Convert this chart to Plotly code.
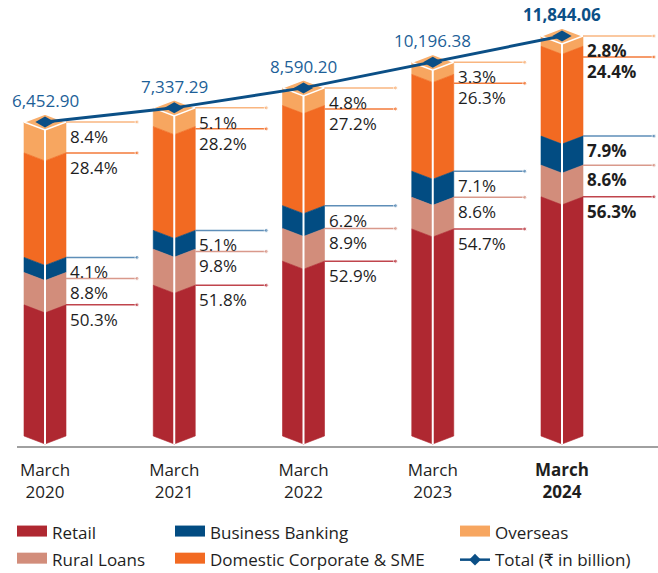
import plotly.graph_objects as go

# ---------------------------------------------------------------------------
# data: loan book mix (% of total) and total advances (₹ billion)
# ---------------------------------------------------------------------------
YEARS = ["2020", "2021", "2022", "2023", "2024"]
TOTALS = [6452.90, 7337.29, 8590.20, 10196.38, 11844.06]

RETAIL = [50.3, 51.8, 52.9, 54.7, 56.3]
RURAL = [8.8, 9.8, 8.9, 8.6, 8.6]
BUSINESS = [4.1, 5.1, 6.2, 7.1, 7.9]
DOMESTIC = [28.4, 28.2, 27.2, 26.3, 24.4]
OVERSEAS = [8.4, 5.1, 4.8, 3.3, 2.8]

TOTAL_NAME = "Total (₹ in billion)"

# series from the top of the column down: name, values, face colour, leader colour
SERIES = [
    ("Overseas", OVERSEAS, "#F7A660", "#F9B680"),
    ("Domestic Corporate & SME", DOMESTIC, "#F26A22", "#F37A3A"),
    ("Business Banking", BUSINESS, "#024C82", "#5E8EB8"),
    ("Rural Loans", RURAL, "#D28D7B", "#D9998B"),
    ("Retail", RETAIL, "#AF2831", "#C0444C"),
]
TOP_FACE = "#F8AE6C"
LINE_BLUE = "#0B4F86"
LABEL_BLUE = "#1D5F98"
TEXT = "#1E1E1E"
FONT = "'Open Sans', Lato, sans-serif"

# ---------------------------------------------------------------------------
# geometry of the pseudo-3D columns (value axis is ₹ billion, hidden)
# ---------------------------------------------------------------------------
PX = 62.7                 # ₹ bn per screen pixel
PLOT_H = 446
Y_MAX = 14100
Y_MIN = Y_MAX - PLOT_H * PX
BASE = Y_MAX - 436 * PX   # where the columns stand
PCT = 3.68 * PX           # drawn height of one percentage point
DEPTH = 8 * PX            # front edge drop of the isometric faces
GAP = 21 * PX             # minimum spacing between leader lines

STEP = 129.25             # pixels between categories
X_LO = -(45 - 17) / STEP
X_HI = X_LO + 641 / STEP
HALF_W = 21 / STEP
LEADER = 71 / STEP

fig = go.Figure()

n = len(YEARS)
edges = []      # per bar: [top, b1, b2, b3, b4] from top down
for i in range(n):
    level = TOTALS[i]
    row = [level]
    for _, vals, _, _ in SERIES[:-1]:
        level -= vals[i] * PCT
        row.append(level)
    edges.append(row)

# column faces, one trace per series
for k, (name, vals, face, _) in enumerate(SERIES):
    xs, ys = [], []
    for i in range(n):
        hi = edges[i][k]
        lo = edges[i][k + 1] if k + 1 < len(edges[i]) else BASE
        xc = i
        xs += [xc - HALF_W, xc, xc + HALF_W, xc + HALF_W, xc, xc - HALF_W, xc - HALF_W, None]
        ys += [hi, hi - DEPTH, hi, lo, lo - DEPTH, lo, hi, None]
    fig.add_trace(go.Scatter(
        x=xs, y=ys, mode="lines", fill="toself", fillcolor=face,
        line=dict(width=0.6, color=face), hoverinfo="skip", showlegend=False,
    ))

# top faces
xs, ys = [], []
for i in range(n):
    t = TOTALS[i]
    xs += [i - HALF_W, i, i + HALF_W, i, i - HALF_W, None]
    ys += [t, t + DEPTH, t, t - DEPTH, t, None]
fig.add_trace(go.Scatter(
    x=xs, y=ys, mode="lines", fill="toself", fillcolor=TOP_FACE,
    line=dict(width=1.5, color="white"), hoverinfo="skip", showlegend=False,
))

# white front edge
xs, ys = [], []
for i in range(n):
    xs += [i, i, None]
    ys += [TOTALS[i] - DEPTH, BASE - DEPTH, None]
fig.add_trace(go.Scatter(
    x=xs, y=ys, mode="lines", line=dict(width=2, color="white"),
    hoverinfo="skip", showlegend=False,
))

# leader lines with end dots
levels = []
for i in range(n):
    row = list(edges[i])
    for k in range(1, len(row)):
        row[k] = min(row[k], row[k - 1] - GAP)
    levels.append(row)

for k, (name, vals, _, lead) in enumerate(SERIES):
    xs, ys, sz = [], [], []
    for i in range(n):
        x0 = i + HALF_W
        xs += [x0, x0 + LEADER, None]
        ys += [levels[i][k], levels[i][k], None]
        sz += [0, 4, 0]
    fig.add_trace(go.Scatter(
        x=xs, y=ys, mode="lines+markers", line=dict(width=1.5, color=lead),
        marker=dict(size=sz, color=lead), hoverinfo="skip", showlegend=False,
    ))

# total line
fig.add_trace(go.Scatter(
    x=list(range(n)), y=TOTALS, mode="lines", line=dict(width=3, color=LINE_BLUE),
    hoverinfo="skip", showlegend=False,
))

# flattened diamond markers on the top faces
xs, ys = [], []
for i in range(n):
    t = TOTALS[i]
    hw, hh = HALF_W * 0.46, 5.5 * PX
    xs += [i - hw, i, i + hw, i, i - hw, None]
    ys += [t, t + hh, t, t - hh, t, None]
fig.add_trace(go.Scatter(
    x=xs, y=ys, mode="lines", fill="toself", fillcolor=LINE_BLUE,
    line=dict(width=0, color=LINE_BLUE), hoverinfo="skip", showlegend=False,
))

# legend entries (no data, only the key)
LEGEND_OF = {
    "Retail": "legend", "Rural Loans": "legend",
    "Business Banking": "legend2", "Domestic Corporate & SME": "legend2",
    "Overseas": "legend3",
}
for name in ["Retail", "Rural Loans", "Business Banking",
             "Domestic Corporate & SME", "Overseas"]:
    face = [s[2] for s in SERIES if s[0] == name][0]
    fig.add_trace(go.Scatter(
        x=[None], y=[None], name=name, mode="lines", fill="toself",
        fillcolor=face, line=dict(width=10, color=face),
        legend=LEGEND_OF[name], legendgroup=name,
    ))
fig.add_trace(go.Scatter(
    x=[None], y=[None], name=TOTAL_NAME, mode="lines+markers",
    line=dict(width=2.5, color=LINE_BLUE),
    marker=dict(symbol="diamond", size=9, color=LINE_BLUE),
    legend="legend3", legendgroup="total",
))

# labels
for i in range(n):
    last = i == n - 1
    txt = f"{TOTALS[i]:,.2f}"
    fig.add_annotation(
        x=i, y=TOTALS[i], text=f"<b>{txt}</b>" if last else txt,
        showarrow=False, yanchor="bottom", yshift=8,
        font=dict(size=17, color=LINE_BLUE if last else LABEL_BLUE),
    )
    for k, (_, vals, _, _) in enumerate(SERIES):
        txt = f"{vals[i]:.1f}%"
        fig.add_annotation(
            x=i + HALF_W, y=levels[i][k], text=f"<b>{txt}</b>" if last else txt,
            showarrow=False, xanchor="left", yanchor="top", xshift=3, yshift=-2,
            borderpad=0, font=dict(size=17, color=TEXT),
        )

ticktext = [f"March<br>{y}" for y in YEARS]
ticktext[-1] = f"<b>March<br>{YEARS[-1]}</b>"

legend_style = dict(orientation="v", xanchor="left", yanchor="top",
                    xref="container", yref="container", y=0.1012,
                    bgcolor="rgba(0,0,0,0)", font=dict(size=17, color=TEXT),
                    traceorder="grouped", tracegroupgap=2)

fig.update_layout(
    width=658, height=573,
    margin=dict(l=17, r=0, t=0, b=127, autoexpand=False),
    plot_bgcolor="white", paper_bgcolor="white",
    font=dict(family=FONT, size=17, color=TEXT),
    showlegend=True,
    xaxis=dict(range=[X_LO, X_HI], tickvals=list(range(n)), ticktext=ticktext,
               showgrid=False, zeroline=False, showline=True,
               linecolor="#A0A0A0", linewidth=1.5, ticks="", automargin=False,
               ticklabelstandoff=8, tickfont=dict(size=17, color=TEXT)),
    yaxis=dict(range=[Y_MIN, Y_MAX], visible=False),
    legend=dict(x=12 / 658, **legend_style),
    legend2=dict(x=170 / 658, **legend_style),
    legend3=dict(x=455 / 658, **legend_style),
)

fig.write_html("out.html", config={"displayModeBar": False},
               post_script="document.body.style.margin = '0';")
